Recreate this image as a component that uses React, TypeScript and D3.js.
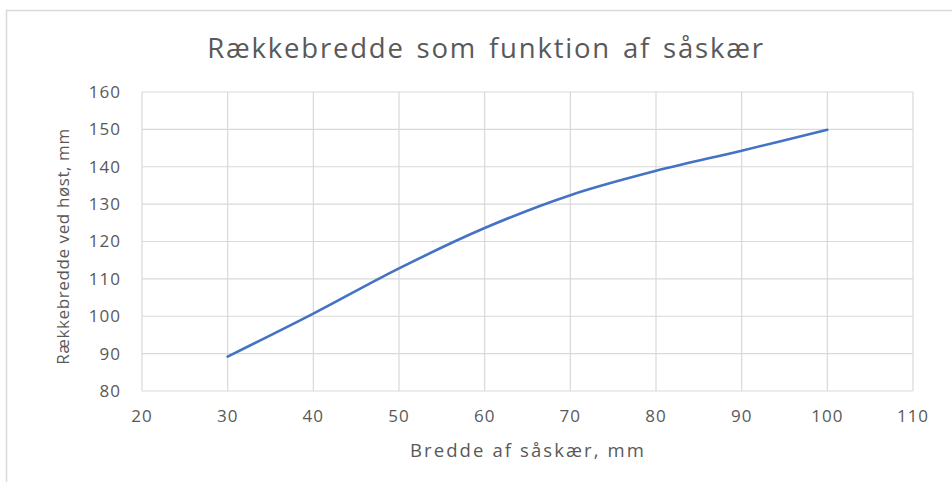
import React, { useEffect } from "react";
import * as d3 from "d3";

// data
const seedWidths = [30, 40, 50, 60, 70, 80, 90, 100];
const rowWidths = [89.2, 100.7, 112.8, 123.6, 132.4, 138.9, 144.3, 149.9];
const xTicks = [20, 30, 40, 50, 60, 70, 80, 90, 100, 110];
const yTicks = [80, 90, 100, 110, 120, 130, 140, 150, 160];

const W = 952;
const H = 482;
const margin = { top: 92, right: 39, bottom: 91, left: 142 };
const font = "'Open Sans', 'Noto Sans', sans-serif";
const textColor = "#595959";
const gridColor = "#d9d9d9";

const App = () => {
  useEffect(() => {
    document.body.style.margin = "0";
  }, []);

  const x = d3.scaleLinear().domain([20, 110]).range([margin.left, W - margin.right]);
  const y = d3.scaleLinear().domain([80, 160]).range([H - margin.bottom, margin.top]);

  const line = d3
    .line<number>()
    .x((d, i) => x(seedWidths[i]))
    .y(d => y(d))
    .curve(d3.curveCatmullRom.alpha(0.5));

  return (
    <svg width={W} height={H} style={{ display: "block", background: "#fff" }}>
      {/* chart frame */}
      <rect x={6.5} y={10.5} width={W} height={H} fill="none" stroke={gridColor} strokeWidth={1.5} />

      <text x={486} y={58} textAnchor="middle" fontFamily={font} fontSize={27.5} letterSpacing={1.8} wordSpacing={3} fill={textColor}>
        Rækkebredde som funktion af såskær
      </text>

      {/* grid */}
      {yTicks.map(t => (
        <line key={"gy" + t} x1={x(20)} x2={x(110)} y1={y(t)} y2={y(t)} stroke={gridColor} strokeWidth={1.2} />
      ))}
      {xTicks.map(t => (
        <line key={"gx" + t} x1={x(t)} x2={x(t)} y1={y(80)} y2={y(160)} stroke={gridColor} strokeWidth={1.2} />
      ))}

      {/* tick labels */}
      {yTicks.map(t => (
        <text key={"ty" + t} x={x(20) - 21} y={y(t)} dy="0.35em" textAnchor="end" fontFamily={font} fontSize={17} letterSpacing={1} fill={textColor}>
          {t}
        </text>
      ))}
      {xTicks.map(t => (
        <text key={"tx" + t} x={x(t)} y={y(80) + 31} textAnchor="middle" fontFamily={font} fontSize={17} letterSpacing={1} fill={textColor}>
          {t}
        </text>
      ))}

      {/* axis titles */}
      <text x={528} y={457} textAnchor="middle" fontFamily={font} fontSize={18.5} letterSpacing={2.1} fill={textColor}>
        Bredde af såskær, mm
      </text>
      <text
        transform={`translate(69,${(y(80) + y(160)) / 2 + 5}) rotate(-90)`}
        textAnchor="middle"
        fontFamily={font}
        fontSize={17}
        letterSpacing={0.6}
        fill={textColor}
      >
        Rækkebredde ved høst, mm
      </text>

      <path d={line(rowWidths) || ""} fill="none" stroke="#4472c4" strokeWidth={2.6} strokeLinecap="round" />
    </svg>
  );
};

export default App;
